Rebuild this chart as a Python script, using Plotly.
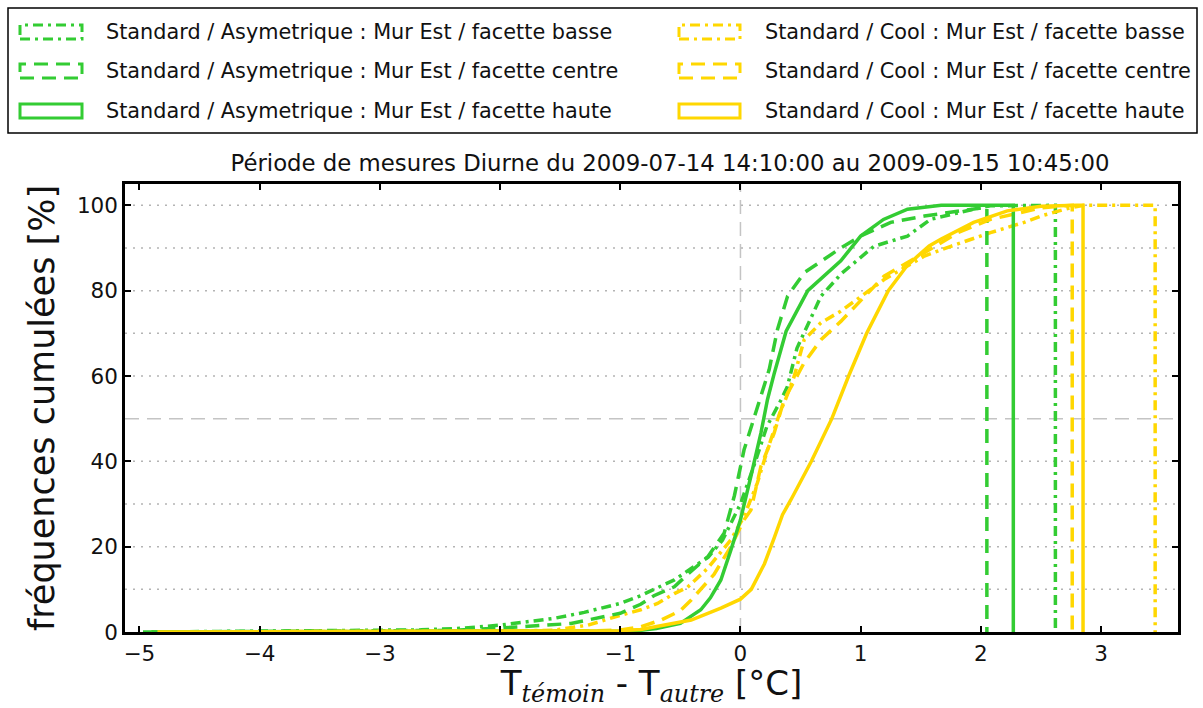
import plotly.graph_objects as go

# ---------------- data ----------------
asym_basse_x = [-4.97, -4.5, -4.0, -3.5, -3.0, -2.66, -2.3, -2.0, -1.55, -1.3, -1.0, -0.83, -0.72, -0.55, -0.41,
                -0.27, -0.15, -0.05, 0.0, 0.11, 0.22, 0.34, 0.39, 0.47, 0.53, 0.67, 0.84, 1.11, 1.39, 1.58, 1.94,
                2.08, 2.62, 2.62]
asym_basse_y = [0, 0.1, 0.15, 0.2, 0.3, 0.5, 0.9, 1.6, 3.2, 4.6, 6.7, 8.5, 10.0, 12.2, 14.9,
                17.5, 21.5, 27.0, 30.0, 38.8, 48.2, 54.5, 57.5, 66.5, 70.1, 78.7, 84.0, 90.4, 92.8, 96.7, 99.1,
                99.9, 100, 0]

asym_centre_x = [-4.9, -4.0, -3.0, -2.38, -1.83, -1.41, -1.0, -0.83, -0.72, -0.55, -0.44, -0.27, -0.135, -0.05,
                 0.03, 0.13, 0.239, 0.308, 0.392, 0.53, 0.67, 0.835, 1.0, 1.25, 1.53, 1.94, 2.05, 2.05]
asym_centre_y = [0, 0.1, 0.2, 0.4, 1.2, 2.0, 4.4, 6.5, 8.5, 10.6, 13.5, 17.7, 23.2, 32.0,
                 42.7, 52.0, 61.5, 70.9, 78.7, 84.2, 86.9, 90.0, 92.8, 96.0, 97.5, 99.1, 99.6, 0]

asym_haute_x = [-4.9, -3.0, -2.0, -1.0, -0.83, -0.7, -0.5, -0.33, -0.25, -0.163, -0.08, 0.0, 0.087, 0.17,
                0.225, 0.28, 0.38, 0.56, 0.835, 1.0, 1.19, 1.39, 1.67, 2.27, 2.27]
asym_haute_y = [0, 0.05, 0.1, 0.2, 0.4, 0.8, 2.0, 5.2, 8.0, 12.2, 19.2, 26.3, 36.5, 46.6,
                54.5, 60.5, 70.5, 80.0, 87.0, 92.8, 96.7, 99.1, 100, 100, 0]

cool_basse_x = [-4.9, -4.0, -3.0, -2.0, -1.55, -1.27, -1.0, -0.83, -0.69, -0.55, -0.44, -0.27, -0.08, 0.03,
                0.14, 0.225, 0.336, 0.364, 0.447, 0.53, 0.67, 0.835, 1.195, 1.53, 1.75, 2.08, 2.36, 2.5, 2.74,
                2.86, 3.45, 3.45]
cool_basse_y = [0, 0.05, 0.1, 0.2, 0.4, 1.6, 3.9, 5.2, 6.7, 9.0, 10.5, 15.0, 21.6, 27.1,
                34.9, 42.7, 52.1, 53.7, 59.9, 68.5, 72.5, 75.2, 82.6, 88.1, 90.4, 93.6, 96.0, 97.5, 99.4,
                100, 100, 0]

cool_centre_x = [-4.85, -4.0, -3.0, -2.0, -1.2, -1.0, -0.83, -0.66, -0.5, -0.41, -0.22, -0.08, 0.03, 0.087,
                 0.17, 0.28, 0.364, 0.53, 0.67, 0.835, 1.195, 1.53, 1.81, 2.08, 2.5, 2.7, 2.76, 2.76]
cool_centre_y = [0, 0.05, 0.1, 0.15, 0.3, 0.5, 1.2, 2.8, 5.0, 7.5, 13.5, 20.0, 26.3, 28.6,
                 38.8, 46.6, 54.5, 63.1, 68.5, 72.8, 83.4, 88.9, 93.6, 96.7, 99.4, 99.9, 100, 0]

cool_haute_x = [-4.85, -3.0, -2.0, -1.0, -0.83, -0.6, -0.41, -0.163, 0.0, 0.09, 0.2, 0.28, 0.35, 0.42, 0.59,
                0.76, 0.90, 1.05, 1.23, 1.39, 1.57, 1.67, 1.94, 2.22, 2.5, 2.8, 2.85, 2.85]
cool_haute_y = [0, 0.05, 0.1, 0.3, 0.6, 1.8, 2.8, 5.6, 7.7, 10.0, 16.0, 22.0, 27.5, 31.0, 40.0,
                50.0, 60.0, 70.0, 80.0, 86.0, 90.5, 92.1, 96.0, 98.7, 99.8, 100, 100, 0]

series_names = [
    "Standard / Asymetrique : Mur Est / facette basse",
    "Standard / Cool : Mur Est / facette basse",
    "Standard / Asymetrique : Mur Est / facette centre",
    "Standard / Cool : Mur Est / facette centre",
    "Standard / Asymetrique : Mur Est / facette haute",
    "Standard / Cool : Mur Est / facette haute",
]
series_x = [asym_basse_x, cool_basse_x, asym_centre_x, cool_centre_x, asym_haute_x, cool_haute_x]
series_y = [asym_basse_y, cool_basse_y, asym_centre_y, cool_centre_y, asym_haute_y, cool_haute_y]

x_ticks = [-5, -4, -3, -2, -1, 0, 1, 2, 3]
y_ticks = [0, 20, 40, 60, 80, 100]
grid_dotted = [10, 20, 30, 40, 60, 70, 80, 90, 100]
grid_dashed = [50]

title_text = "Période de mesures Diurne du 2009-07-14 14:10:00 au 2009-09-15 10:45:00"

# ---------------- style ----------------
GREEN = "#33cc33"
GOLD = "#ffd700"
colors = [GREEN, GOLD, GREEN, GOLD, GREEN, GOLD]
DASHDOT = "10px,5px,3px,5px"
DASHED = "14px,8px"
dashes = [DASHDOT, DASHDOT, DASHED, DASHED, "solid", "solid"]
FONT = "DejaVu Sans"

W, H = 1203, 708
ML, MR, MT, MB = 125, 25, 184, 76
PW, PH = W - ML - MR, H - MT - MB


def px2x(px):
    return (px - ML) / PW


def px2y(py):
    return (H - MB - py) / PH


fig = go.Figure()
for xs, ys, c, d, n in zip(series_x, series_y, colors, dashes, series_names):
    fig.add_trace(go.Scatter(x=xs, y=ys, mode="lines", name=n,
                             line=dict(color=c, width=3.5, dash=d), showlegend=False))

shapes = []
for g in grid_dotted:
    shapes.append(dict(type="line", xref="paper", x0=0, x1=1, yref="y", y0=g, y1=g,
                       line=dict(color="#b4b4b4", width=1.5, dash="2px,6px"), layer="below"))
for g in grid_dashed:
    shapes.append(dict(type="line", xref="paper", x0=0, x1=1, yref="y", y0=g, y1=g,
                       line=dict(color="#c4c4c4", width=1.5, dash="14px,8px"), layer="below"))
shapes.append(dict(type="line", xref="x", x0=0, x1=0, yref="paper", y0=0, y1=1,
                   line=dict(color="#c4c4c4", width=1.5, dash="14px,8px"), layer="below"))

# legend box
shapes.append(dict(type="rect", xref="paper", yref="paper", x0=px2x(8), x1=px2x(1197),
                   y0=px2y(133), y1=px2y(8), line=dict(color="black", width=1.5),
                   fillcolor="rgba(0,0,0,0)"))
annotations = []
row_y = [32, 71, 111]
col_patch = [(20, 82), (679, 740)]
col_text = [104, 763]
for i, n in enumerate(series_names):
    r, c = i // 2, i % 2
    cy = row_y[r]
    shapes.append(dict(type="rect", xref="paper", yref="paper",
                       x0=px2x(col_patch[c][0]), x1=px2x(col_patch[c][1]),
                       y0=px2y(cy + 7), y1=px2y(cy - 7),
                       line=dict(color=colors[i], width=3, dash=dashes[i] if dashes[i] != "solid" else None),
                       fillcolor="rgba(0,0,0,0)"))
    annotations.append(dict(text=n, xref="paper", yref="paper", x=px2x(col_text[c]), y=px2y(cy),
                            xanchor="left", yanchor="middle", showarrow=False,
                            font=dict(family=FONT, size=20.8, color="#111111")))

fig.update_layout(
    width=W, height=H,
    margin=dict(l=ML, r=MR, t=MT, b=MB),
    paper_bgcolor="white", plot_bgcolor="white",
    shapes=shapes, annotations=annotations,
    title=dict(text=title_text, x=670 / W, xanchor="center",
               y=1 - 163 / H, yref="container", yanchor="middle",
               font=dict(family=FONT, size=22.8, color="#111111")),
    font=dict(family=FONT, size=21.5, color="#111111"),
    xaxis=dict(range=[-5.12, 3.64], tickvals=x_ticks,
               ticktext=[("\u2212" + str(-v)) if v < 0 else str(v) for v in x_ticks],
               showgrid=False, zeroline=False, showline=True, linecolor="black", linewidth=2.5,
               mirror="allticks", ticks="inside", ticklen=6, tickwidth=1.5, tickcolor="black",
               tickfont=dict(family=FONT, size=21.5),
               title=dict(text="T<sub><span style=\"font-family:'DejaVu Serif'\"><i>témoin</i></span></sub> - "
                               "T<sub><span style=\"font-family:'DejaVu Serif'\"><i>autre</i></span></sub> [°C]",
                          font=dict(family=FONT, size=34), standoff=7)),
    yaxis=dict(range=[0, 105], tickvals=y_ticks, showgrid=False, zeroline=False, showline=True,
               linecolor="black", linewidth=2.5, mirror="allticks", ticks="inside", ticklen=6,
               tickwidth=1.5, tickcolor="black", tickfont=dict(family=FONT, size=21.5),
               title=dict(text="fréquences cumulées [%]", font=dict(family=FONT, size=35), standoff=12)),
)

fig.write_html("out.html", config={"displayModeBar": False},
               post_script="document.body.style.margin='0px';document.body.style.overflow='hidden';")
